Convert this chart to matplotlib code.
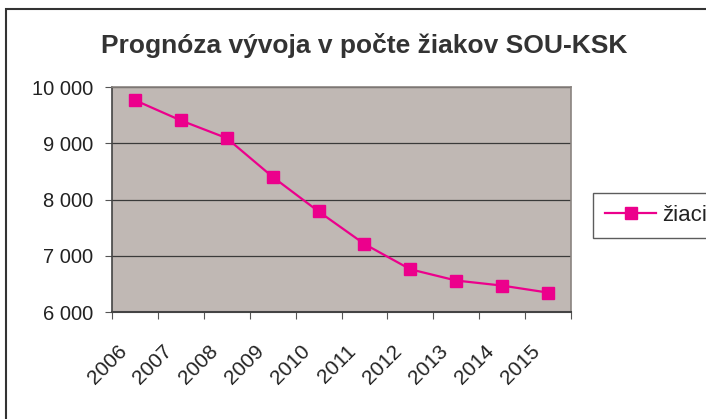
import matplotlib
matplotlib.use("Agg")
import matplotlib.pyplot as plt
from matplotlib.patches import Rectangle
from matplotlib.ticker import FuncFormatter
from matplotlib.transforms import ScaledTranslation

years = ["2006", "2007", "2008", "2009", "2010", "2011", "2012", "2013", "2014", "2015"]
ziaci = [9770, 9410, 9095, 8405, 7790, 7210, 6760, 6560, 6470, 6345]
title = "Prognóza vývoja v počte žiakov SOU-KSK"
series_name = "žiaci"

fam = ["Liberation Sans Narrow", "Liberation Sans", "DejaVu Sans"]
plt.rcParams["font.family"] = fam

fig = plt.figure(figsize=(7.06, 4.19), dpi=100)
fig.patch.set_facecolor("white")
fig.patches.append(Rectangle((6/706, -0.05), 1.1, 1 - 9.5/419 + 0.05, transform=fig.transFigure,
                             fill=False, edgecolor="#333333", linewidth=1.5))

ax = fig.add_axes([112/706, 1 - 312/419, (571 - 112)/706, (312 - 87.3)/419])
ax.set_facecolor("#C0B8B4")
x = list(range(len(years)))
ax.plot(x, ziaci, color="#EC008C", linewidth=1.6, marker="s", markersize=8.5,
        markeredgecolor="#EC008C", markerfacecolor="#EC008C", label=series_name, zorder=3)

ax.set_xlim(-0.5, len(years) - 0.5)
ax.set_ylim(6000, 10000)
ax.set_yticks([6000, 7000, 8000, 9000, 10000])
ax.yaxis.set_major_formatter(FuncFormatter(lambda v, p: f"{int(v):,}".replace(",", " ")))
ax.grid(axis="y", color="#3A3A3A", linewidth=0.9)
ax.set_axisbelow(True)

ax.set_xticks([i - 0.5 for i in range(len(years) + 1)])
ax.set_xticklabels([])
ax.set_xticks(x, minor=True)
ax.set_xticklabels(years, minor=True, rotation=45, ha="right", va="top",
                   rotation_mode="anchor", fontsize=15, color="#222222")
ax.tick_params(axis="x", which="minor", length=0, pad=21.5)
ax.tick_params(axis="x", which="major", length=5, color="#555555", direction="out")
ax.tick_params(axis="y", length=5, color="#555555", labelsize=14.5, labelcolor="#222222", pad=8.5)
off = ScaledTranslation(-18/100, 0, fig.dpi_scale_trans)
for lab in ax.get_xticklabels(minor=True):
    lab.set_transform(lab.get_transform() + off)

for s in ["top", "right"]:
    ax.spines[s].set_color("#8A8480")
    ax.spines[s].set_linewidth(1.2)
ax.spines["left"].set_color("#444444")
ax.spines["bottom"].set_color("#444444")
ax.spines["left"].set_linewidth(1.2)
ax.spines["bottom"].set_linewidth(1.5)

fig.text(364/706, 1 - 45/419, title, ha="center", va="center", fontsize=19,
         fontweight="bold", color="#333333")

leg = fig.legend(loc="upper left", bbox_to_anchor=(593/706, 1 - 192.7/419),
                 fontsize=16, frameon=True, fancybox=False, handlelength=2.3,
                 borderpad=0.55, handletextpad=0.25, borderaxespad=0)
leg.get_frame().set_edgecolor("#333333")
leg.get_frame().set_linewidth(1.0)
for t in leg.get_texts():
    t.set_color("#222222")

fig.savefig("out.png", dpi=100)
